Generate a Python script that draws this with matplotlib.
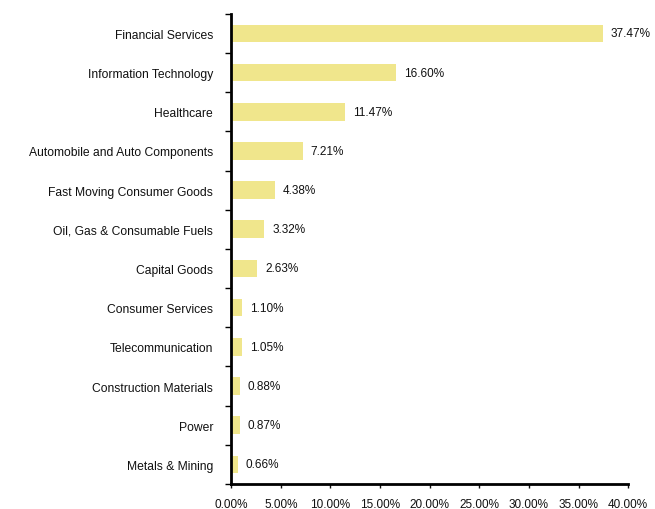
import matplotlib
matplotlib.use("Agg")
import matplotlib.pyplot as plt
from matplotlib.ticker import FuncFormatter, FixedLocator
import numpy as np

# sector weights (%), top to bottom
sectors = ["Financial Services", "Information Technology", "Healthcare",
           "Automobile and Auto Components", "Fast Moving Consumer Goods",
           "Oil, Gas & Consumable Fuels", "Capital Goods", "Consumer Services",
           "Telecommunication", "Construction Materials", "Power", "Metals & Mining"]
weights = [37.47, 16.60, 11.47, 7.21, 4.38, 3.32, 2.63, 1.10, 1.05, 0.88, 0.87, 0.66]

plt.rcParams['font.family'] = ['Liberation Sans', 'DejaVu Sans']

fig = plt.figure(figsize=(6.55, 5.1), dpi=100)
ax = fig.add_axes([0.353, 0.049, 0.606, 0.922])

y = np.arange(len(sectors))
ax.barh(y, weights, height=0.45, color="#F0E68C")
for yi, w in zip(y, weights):
    ax.text(w + 0.8, yi, "%.2f%%" % w, va="center", ha="left", fontsize=8.5, color="#111111")

ax.set_ylim(len(sectors) - 0.5, -0.5)
ax.set_xlim(0, 40)
ax.set_yticks(y)
ax.set_yticklabels(sectors, fontsize=8.7, color="#111111")
ax.tick_params(axis="y", length=0, pad=13)
ax.yaxis.set_minor_locator(FixedLocator(np.arange(-0.5, len(sectors), 1)))
ax.tick_params(axis="y", which="minor", length=4, width=1, direction="out")

ax.set_xticks(np.arange(0, 41, 5))
ax.xaxis.set_major_formatter(FuncFormatter(lambda v, p: "%.2f%%" % v))
ax.tick_params(axis="x", length=3, width=1, direction="out", labelsize=8.5, pad=7, colors="#111111")

for s in ["top", "right"]:
    ax.spines[s].set_visible(False)
ax.spines["left"].set_linewidth(2)
ax.spines["bottom"].set_linewidth(2)

fig.savefig("out.png", dpi=100)
